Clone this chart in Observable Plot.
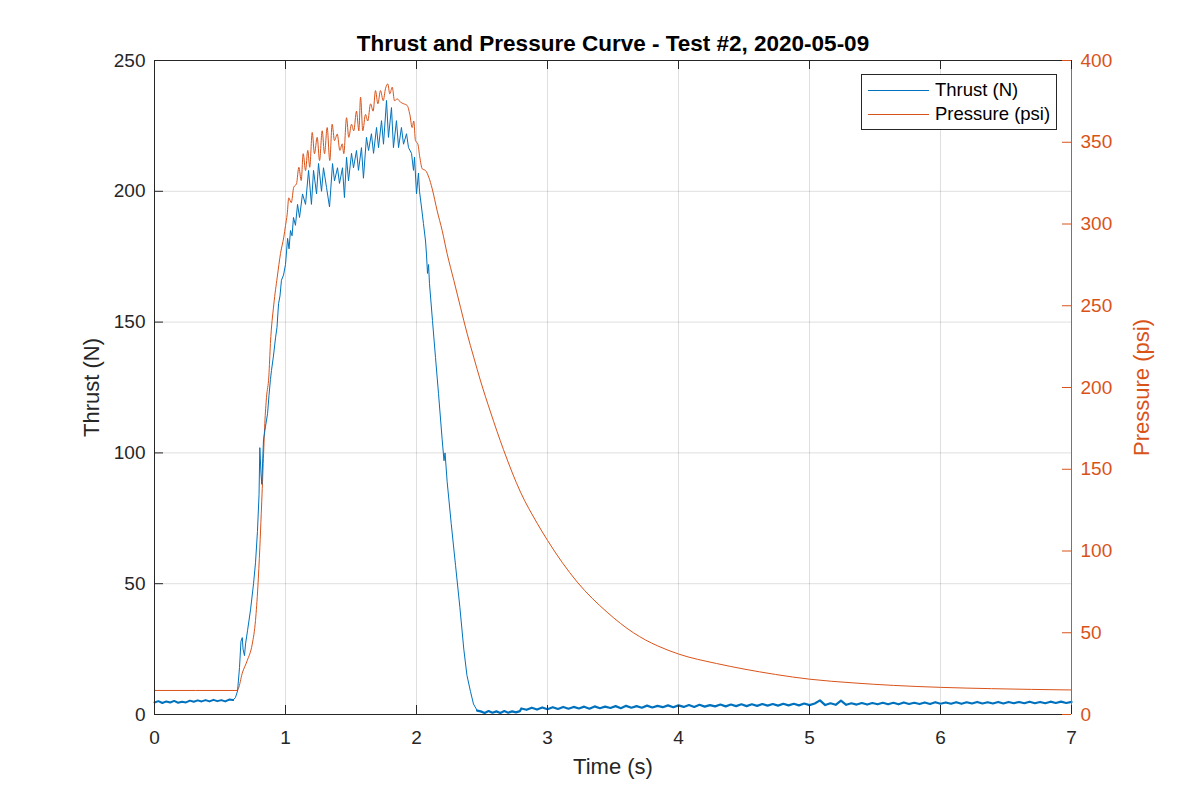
<!DOCTYPE html>
<html>
<head>
<meta charset="utf-8">
<script src="https://cdn.jsdelivr.net/npm/d3@7"></script>
<script src="https://cdn.jsdelivr.net/npm/@observablehq/plot@0.6"></script>
<style>
  body { margin: 0; background: #fff; font-family: "Liberation Sans", Arial, sans-serif; }
  #wrap { position: relative; width: 1186px; height: 802px; }
  #legend { position: absolute; left: 861px; top: 74px; width: 196px; height: 56px; box-sizing: border-box;
            border: 1px solid #262626; background: #fff; font-size: 18.5px; color: #000; }
  .row { position: absolute; left: 0; height: 24px; width: 100%; }
  .sw { position: absolute; left: 6px; width: 61px; height: 0; border-top: 1px solid; }
  .lb { position: absolute; left: 73px; line-height: 24px; white-space: nowrap; }
</style>
</head>
<body>
<div id="wrap"><div id="chart"></div><div id="legend"></div></div>
<script>
// ---------- text ----------
const titleText = ["Thrust and Pressure Curve - Test #2, 2020-05-09"];
const xLabel = ["Time (s)"];
const yLabelLeft = ["Thrust (N)"];
const yLabelRight = ["Pressure (psi)"];
const seriesNames = ["Thrust (N)", "Pressure (psi)"];
const seriesColors = ["#0072BD", "#D95319"];

// ---------- ticks ----------
const timeTicks = [0, 1, 2, 3, 4, 5, 6, 7];
const thrustTicks = [0, 50, 100, 150, 200, 250];
const pressureTicks = [0, 50, 100, 150, 200, 250, 300, 350, 400];

// ---------- thrust (N) ----------
// before ignition (noise floor)
const preT = [0,0.03,0.06,0.09,0.12,0.15,0.18,0.21,0.24,0.27,0.30,0.33,0.36,0.39,0.42,0.45,0.48,0.51,0.54,0.57,0.60];
const preN = [4.6,5.1,4.4,5.0,4.6,5.2,4.5,4.9,4.6,5.3,4.9,5.4,5.0,5.5,5.0,5.6,5.1,5.5,5.0,5.7,5.5];
// burn
const burnT = [0.60,0.618,0.634,0.649,0.66,0.67,0.676,0.687,0.695,0.71,0.733,0.756,0.771,0.786,0.798,0.804,0.813,0.819,0.832,0.847,0.863,0.874,0.885,0.893,0.908,0.924,0.935,0.947,0.958,0.969,0.985,
  1.0,1.016,1.027,1.038,1.05,1.061,1.076,1.092,1.107,1.13,1.153,1.176,1.198,1.214,1.237,1.252,1.275,1.29,1.313,1.336,1.359,1.374,1.397,1.412,1.435,1.45,1.466,1.481,1.504,1.519,1.542,1.557,1.58,1.595,1.618,1.634,1.656,1.672,1.695,1.71,1.733,1.748,1.771,1.786,1.809,1.824,1.847,1.863,1.885,1.901,1.924,1.939,1.962,1.977,1.985,
  2.0,2.015,2.023,2.038,2.053,2.069,2.076,2.084,2.092,2.099,2.122,2.145,2.168,2.196,2.21,2.218,2.234,2.265,2.298,2.331,2.361,2.385,2.412,2.435,2.463];
const burnN = [5.5,6.5,9,18,28,29.4,25,22.5,27,32,40,50,58,70,84,102,92,88,105,110,115,122,128,131.5,137,144,148,157,160,166,168,
  172,182,178,185,183,190,187,195,190,199,195,208,195,208,199,210.6,200,209,201.5,194,210.6,204,209,203,209,197.6,213,204,214.5,209,215.6,208,216.7,205,220.6,215.6,222,214.5,224.4,216.7,227,218,234.7,220.6,232,216.7,227,216.7,224.4,218,222,216.7,214.5,208,213,
  199,207,200,194,187.7,181,176,168.6,172,164.8,150.6,136.5,122.7,105,97,100,89,73,57,41,25,15,8.8,4,1.5];
// after burnout (noise floor)
const postT = [2.463,2.49,2.52,2.55,2.58,2.61,2.64,2.67,2.70,2.73,2.76,2.79];
const postN = [1.5,1.2,0.6,1.3,0.7,1.2,0.6,1.3,0.7,1.2,0.8,1.3];
// sampled every 0.04 s from 2.80 s
const tailStart = 2.8, tailStep = 0.04;
const thrustTail = [2.3,1.8,2.6,1.9,2.7,2.0,2.8,2.1,2.9,2.2,2.9,2.3,3.0,2.2,3.1,2.4,3.0,2.5,3.2,2.4,
  3.3,2.6,3.2,2.6,3.4,2.7,3.3,2.8,3.5,2.8,3.5,2.9,3.6,2.9,3.7,3.0,3.6,3.1,3.8,3.1,
  3.8,3.2,3.9,3.2,3.9,3.3,4.0,3.4,4.0,3.4,4.1,3.5,4.1,3.5,4.2,3.6,4.2,5.4,3.6,4.3,
  3.7,5.3,3.7,4.3,3.8,4.4,3.8,4.4,3.9,4.5,3.9,4.5,3.9,4.6,4.0,4.5,4.0,4.6,4.0,4.7,
  4.1,4.6,4.1,4.7,4.1,4.7,4.2,4.8,4.2,4.7,4.2,4.8,4.2,4.8,4.3,4.8,4.3,4.9,4.3,4.8,
  4.3,4.9,4.4,4.9,4.4,4.8];

// ---------- pressure (psi) ----------
const pressureT = [0,0.63,0.641,0.669,0.708,0.746,0.771,0.789,0.804,0.815,0.83,0.842,0.855,0.873,0.885,0.911,0.937,0.962,0.987,
  1.0,1.013,1.025,1.044,1.063,1.084,1.102,1.12,1.135,1.153,1.17,1.185,1.204,1.221,1.242,1.26,1.28,1.298,1.318,1.338,1.356,1.374,1.395,1.415,1.433,1.445,1.466,1.483,1.504,1.521,1.542,1.56,1.573,1.59,1.611,1.628,1.649,1.669,1.687,1.705,1.725,1.746,1.763,1.781,1.796,1.815,1.832,1.853,1.878,1.903,1.929,1.949,1.967,1.979,1.992,
  2.01,2.025,2.044,2.069,2.094,2.12,2.158,2.196,2.234,2.285,2.336,2.387,2.437,2.489,2.565,2.664,2.794,2.921,
  3.0,3.227,3.456,3.656,3.75,3.84,4.0,4.29,4.5,4.74,5.0,5.34,5.64,6.0,6.39,7.0];
const pressurePsi = [14.7,14.7,16,25,33,43,57.5,78,102,123,153.5,178,194,207,227,251,267.5,282,292,
  299,306,316,313,322.5,324.6,334.7,326.6,343,332.7,345,334.7,356,343,353,338.8,357,343,359,338.8,361,351,355,345,349,343,365,353,361,357,369,357,377.6,357,367,363,373.5,369,381.6,373.5,381.6,375.4,382.7,385.7,379.6,383.7,375.4,376.5,374.5,373.5,372.5,367,359,363,351,
  349,341,333.7,332.7,328.6,321.5,308,296,281.8,265.5,249,232.8,218.5,204,185,162,136,117,
  106.5,81,62.5,50,45.5,42,37,31.2,27.8,24.5,21.6,19.3,17.8,16.6,15.8,15];

// ---------- build tables ----------
const preData = preT.map((t, i) => ({t, v: preN[i]}));
const burnData = burnT.map((t, i) => ({t, v: burnN[i]}));
const postData = postT.map((t, i) => ({t, v: postN[i]}))
  .concat(thrustTail.map((v, i) => ({t: tailStart + i * tailStep, v})));
const pressureData = pressureT.map((t, i) => ({t, p: pressurePsi[i]}));

const yMax = 250, pMax = 400, k = yMax / pMax; // pressure -> left-axis units
const W = 1186, H = 802, mL = 154, mR = 115, mT = 60, mB = 88;
const fw = W - mL - mR, fh = H - mT - mB;
const axisCol = "#262626";
const font = "Liberation Sans, Arial, Helvetica, sans-serif";

const chart = Plot.plot({
  width: W, height: H,
  marginLeft: mL, marginRight: mR, marginTop: mT, marginBottom: mB,
  style: {fontFamily: font, background: "#fff", overflow: "visible"},
  x: {domain: [0, 7]},
  y: {domain: [0, yMax]},
  marks: [
    Plot.gridX(timeTicks, {stroke: axisCol, strokeOpacity: 0.15, strokeWidth: 1}),
    Plot.gridY(thrustTicks, {stroke: axisCol, strokeOpacity: 0.15, strokeWidth: 1}),
    Plot.line(pressureData, {x: "t", y: d => d.p * k, stroke: seriesColors[1], strokeWidth: 1, curve: "monotone-x"}),
    Plot.line(preData, {x: "t", y: "v", stroke: seriesColors[0], strokeWidth: 2}),
    Plot.line(burnData, {x: "t", y: "v", stroke: seriesColors[0], strokeWidth: 1}),
    Plot.line(postData, {x: "t", y: "v", stroke: seriesColors[0], strokeWidth: 2.2}),
    // box
    Plot.ruleY([0], {stroke: axisCol, strokeWidth: 1}),
    Plot.ruleY([yMax], {stroke: axisCol, strokeWidth: 1}),
    Plot.ruleX([0], {stroke: axisCol, strokeWidth: 1}),
    Plot.ruleX([7], {stroke: seriesColors[1], strokeWidth: 1}),
    // inward ticks
    Plot.tickX(timeTicks, {x: d => d, stroke: axisCol, insetTop: fh - 9}),
    Plot.tickX(timeTicks, {x: d => d, stroke: axisCol, insetBottom: fh - 9}),
    Plot.tickY(thrustTicks, {y: d => d, stroke: axisCol, insetRight: fw - 9}),
    Plot.tickY(pressureTicks, {y: d => d * k, stroke: seriesColors[1], insetLeft: fw - 9}),
    // tick labels
    Plot.axisX(timeTicks, {tickSize: 0, tickPadding: 16, fontSize: 19, color: axisCol, label: null, tickFormat: d => String(d)}),
    Plot.axisY(thrustTicks, {anchor: "left", tickSize: 0, tickPadding: 9, fontSize: 19, color: axisCol, label: null}),
    Plot.axisY(pressureTicks.map(p => p * k), {anchor: "right", tickSize: 0, tickPadding: 9, fontSize: 19,
      color: seriesColors[1], label: null, tickFormat: d => String(Math.round(d / k))}),
    // labels and title
    Plot.text(xLabel, {text: d => d, frameAnchor: "bottom", textAnchor: "middle", lineAnchor: "middle", dy: 52, fontSize: 22, fill: axisCol}),
    Plot.text(yLabelLeft, {text: d => d, frameAnchor: "left", textAnchor: "middle", lineAnchor: "middle", dx: -63, rotate: -90, fontSize: 22, fill: axisCol}),
    Plot.text(yLabelRight, {text: d => d, frameAnchor: "right", textAnchor: "middle", lineAnchor: "middle", dx: 70, rotate: -90, fontSize: 22, fill: seriesColors[1]}),
    Plot.text(titleText, {text: d => d, frameAnchor: "top", textAnchor: "middle", lineAnchor: "middle", dy: -17, fontSize: 22.5, fontWeight: "bold", fill: "#000"})
  ]
});
document.getElementById("chart").appendChild(chart);

// legend
const leg = document.getElementById("legend");
seriesNames.forEach((name, i) => {
  const row = document.createElement("div");
  row.className = "row";
  row.style.top = (3 + i * 24) + "px";
  const sw = document.createElement("div");
  sw.className = "sw";
  sw.style.top = "12px";
  sw.style.borderTopColor = seriesColors[i];
  const lb = document.createElement("div");
  lb.className = "lb";
  lb.textContent = name;
  row.appendChild(sw); row.appendChild(lb);
  leg.appendChild(row);
});
</script>
</body>
</html>
